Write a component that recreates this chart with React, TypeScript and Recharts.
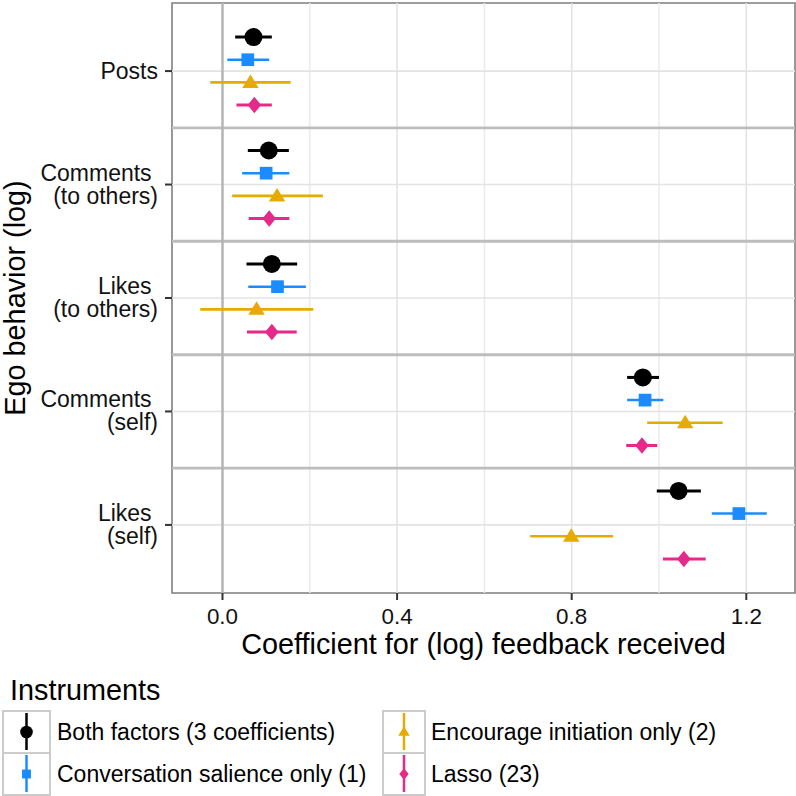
import React from 'react';
import { ComposedChart, Scatter, XAxis, YAxis, ErrorBar, ReferenceLine, ReferenceArea } from 'recharts';

const categories = ['Posts', 'Comments \n(to others)', 'Likes \n(to others)', 'Comments \n(self)', 'Likes \n(self)'];
const xTicks = [0, 0.4, 0.8, 1.2];
const xMinor = [0.2, 0.6, 1.0];

const bothEst = [0.071, 0.106, 0.113, 0.963, 1.045];
const bothLo = [0.029, 0.058, 0.055, 0.927, 0.995];
const bothHi = [0.113, 0.152, 0.171, 1.0, 1.096];

const convEst = [0.058, 0.1, 0.126, 0.968, 1.183];
const convLo = [0.011, 0.045, 0.059, 0.927, 1.121];
const convHi = [0.107, 0.153, 0.191, 1.01, 1.247];

const encEst = [0.064, 0.125, 0.078, 1.06, 0.799];
const encLo = [-0.028, 0.022, -0.051, 0.973, 0.705];
const encHi = [0.156, 0.23, 0.208, 1.146, 0.895];

const lassoEst = [0.073, 0.107, 0.113, 0.961, 1.057];
const lassoLo = [0.032, 0.06, 0.056, 0.925, 1.009];
const lassoHi = [0.113, 0.153, 0.17, 0.996, 1.107];

const seriesNames = ['Both factors (3 coefficients)', 'Conversation salience only (1)', 'Encourage initiation only (2)', 'Lasso (23)'];

const FONT = '"Liberation Sans", Arial, Helvetica, sans-serif';
const BIG = 28.8;
const SMALL = 23;
const X_DOMAIN: [number, number] = [-0.1157, 1.3116];
const Y_DOMAIN: [number, number] = [0.4, 5.6];
const DODGE = [-0.3, -0.1, 0.1, 0.3];

type Shape = 'circle' | 'square' | 'triangle' | 'diamond';

const seriesDefs = [
  { name: seriesNames[0], est: bothEst, lo: bothLo, hi: bothHi, color: '#000000', shape: 'circle' as Shape, sw: 3 },
  { name: seriesNames[1], est: convEst, lo: convLo, hi: convHi, color: '#1a8cff', shape: 'square' as Shape, sw: 2.5 },
  { name: seriesNames[2], est: encEst, lo: encLo, hi: encHi, color: '#e6ab02', shape: 'triangle' as Shape, sw: 2.6 },
  { name: seriesNames[3], est: lassoEst, lo: lassoLo, hi: lassoHi, color: '#e7298a', shape: 'diamond' as Shape, sw: 3 },
];

function buildData(est: number[], lo: number[], hi: number[], k: number) {
  return est.map((v, i) => ({ x: v, y: i + 1 + DODGE[k], err: [v - lo[i], hi[i] - v] }));
}

function Marker({ shape, cx, cy, color, scale = 1 }: { shape: Shape; cx: number; cy: number; color: string; scale?: number }) {
  if (shape === 'circle') return <circle cx={cx} cy={cy} r={9 * scale} fill={color} />;
  if (shape === 'square') {
    const s = 12.7 * scale;
    return <rect x={cx - s / 2} y={cy - s / 2} width={s} height={s} fill={color} />;
  }
  if (shape === 'triangle') {
    const w = 16.5 * scale;
    const pts = `${cx},${cy - 8 * scale} ${cx + w / 2},${cy + 5.5 * scale} ${cx - w / 2},${cy + 5.5 * scale}`;
    return <polygon points={pts} fill={color} />;
  }
  const w = 13.5 * scale;
  const h = 16.5 * scale;
  const pts = `${cx},${cy - h / 2} ${cx + w / 2},${cy} ${cx},${cy + h / 2} ${cx - w / 2},${cy}`;
  return <polygon points={pts} fill={color} />;
}

const YTick = (props: any) => {
  const { x, y, payload } = props;
  const label = categories[Math.round(payload.value) - 1] || '';
  const lines = label.split('\n');
  const common = { textAnchor: 'end' as const, fontSize: SMALL, fontFamily: FONT, fill: '#111', style: { whiteSpace: 'pre' as const } };
  if (lines.length === 1) {
    return (
      <text x={x} y={y + 8} {...common}>
        {lines[0]}
      </text>
    );
  }
  return (
    <text x={x} {...common}>
      <tspan x={x} y={y - 4}>{lines[0]}</tspan>
      <tspan x={x} y={y + 19}>{lines[1]}</tspan>
    </text>
  );
};

const XLabel = (props: any) => {
  const vb = props.viewBox || {};
  return (
    <text x={vb.x + vb.width / 2} y={vb.y + 61} textAnchor="middle" fontSize={BIG} fontFamily={FONT} fill="#000">
      Coefficient for (log) feedback received
    </text>
  );
};

const YLabel = (props: any) => {
  const vb = props.viewBox || {};
  const cy = vb.y + vb.height / 2;
  const bx = 25;
  return (
    <text x={bx} y={cy} transform={`rotate(-90, ${bx}, ${cy})`} textAnchor="middle" fontSize={BIG} fontFamily={FONT} fill="#000">
      Ego behavior (log)
    </text>
  );
};

function LegendOverlay() {
  const rows = [711, 753];
  const cols = [
    { bx: 3, bw: 47, tx: 57 },
    { bx: 383, bw: 42, tx: 431 },
  ];
  const items = [
    { s: seriesDefs[0], c: 0, r: 0 },
    { s: seriesDefs[1], c: 0, r: 1 },
    { s: seriesDefs[2], c: 1, r: 0 },
    { s: seriesDefs[3], c: 1, r: 1 },
  ];
  return (
    <svg width={796} height={796} style={{ position: 'absolute', left: 0, top: 0, pointerEvents: 'none' }}>
      <text x={10} y={700} fontSize={BIG} fontFamily={FONT} fill="#000">
        Instruments
      </text>
      {items.map((it, i) => {
        const col = cols[it.c];
        const by = rows[it.r];
        const cx = col.bx + col.bw / 2;
        const cy = by + 21;
        return (
          <g key={i}>
            <rect x={col.bx} y={by} width={col.bw} height={42} fill="#ffffff" stroke="#cccccc" strokeWidth={2} />
            <line x1={cx} x2={cx} y1={by + 2} y2={by + 39} stroke={it.s.color} strokeWidth={2.5} />
            <Marker shape={it.s.shape} cx={cx} cy={cy} color={it.s.color} scale={0.7} />
            <text x={col.tx} y={cy + 8} fontSize={SMALL} fontFamily={FONT} fill="#000">
              {it.s.name}
            </text>
          </g>
        );
      })}
    </svg>
  );
}

export default function App() {
  return (
    <div style={{ position: 'absolute', left: 0, top: 0, width: 796, height: 796, background: '#fff' }}>
      <ComposedChart width={796} height={796} margin={{ top: 3, right: 1, bottom: 133, left: 0 }}>
        <XAxis
          type="number"
          dataKey="x"
          domain={X_DOMAIN}
          ticks={xTicks}
          allowDataOverflow
          tickFormatter={(v: number) => v.toFixed(1)}
          tick={{ fontSize: 22.4, fontFamily: FONT, fill: '#111' }}
          tickSize={7}
          tickMargin={8}
          tickLine={{ stroke: '#333', strokeWidth: 2 }}
          axisLine={false}
          height={70}
          label={<XLabel />}
        />
        <YAxis
          type="number"
          dataKey="y"
          domain={Y_DOMAIN}
          ticks={[1, 2, 3, 4, 5]}
          reversed
          allowDataOverflow
          width={172}
          tick={<YTick />}
          tickSize={7}
          tickMargin={7}
          tickLine={{ stroke: '#333', strokeWidth: 2 }}
          axisLine={false}
          label={<YLabel />}
        />
        {xMinor.map((v) => (
          <ReferenceLine key={'xm' + v} x={v} stroke="#ebebeb" strokeWidth={1.5} />
        ))}
        {xTicks.map((v) => (
          <ReferenceLine key={'xt' + v} x={v} stroke="#e3e3e3" strokeWidth={1.6} />
        ))}
        {[1, 2, 3, 4, 5].map((v) => (
          <ReferenceLine key={'yt' + v} y={v} stroke="#e3e3e3" strokeWidth={1.6} />
        ))}
        {[1.5, 2.5, 3.5, 4.5].map((v) => (
          <ReferenceLine key={'ys' + v} y={v} stroke="#bdbdbd" strokeWidth={2.8} />
        ))}
        <ReferenceLine x={0} stroke="#b3b3b3" strokeWidth={2.4} />
        {seriesDefs.map((s, k) => (
          <Scatter
            key={s.name}
            name={s.name}
            data={buildData(s.est, s.lo, s.hi, k)}
            isAnimationActive={false}
            shape={(p: any) => <Marker shape={s.shape} cx={p.cx} cy={p.cy} color={s.color} />}
          >
            <ErrorBar dataKey="err" direction="x" width={0} stroke={s.color} strokeWidth={s.sw} />
          </Scatter>
        ))}
        <ReferenceArea
          x1={X_DOMAIN[0]}
          x2={X_DOMAIN[1]}
          y1={Y_DOMAIN[0]}
          y2={Y_DOMAIN[1]}
          fill="none"
          fillOpacity={0}
          stroke="#7f7f7f"
          strokeWidth={1.6}
          ifOverflow="visible"
        />
      </ComposedChart>
      <LegendOverlay />
    </div>
  );
}
